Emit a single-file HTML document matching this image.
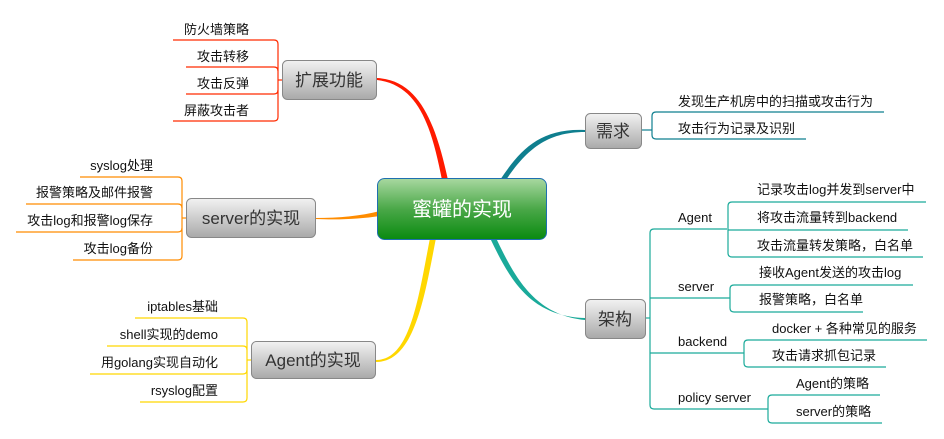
<!DOCTYPE html>
<html><head><meta charset="utf-8"><style>
html,body{margin:0;padding:0;background:#fff;width:944px;height:439px;overflow:hidden}
text{font-family:"Liberation Sans","Noto Sans CJK SC",sans-serif;font-size:13px;fill:#111}
.b{font-size:17px;fill:#333}
</style></head><body>
<svg width="944" height="439" viewBox="0 0 944 439" xmlns="http://www.w3.org/2000/svg">
<defs>
<linearGradient id="g" x1="0" y1="0" x2="0" y2="1"><stop offset="0" stop-color="#f2f2f2"/><stop offset="1" stop-color="#a9a9a9"/></linearGradient>
<linearGradient id="gc" x1="0" y1="0" x2="0" y2="1"><stop offset="0" stop-color="#a8d8a0"/><stop offset="0.5" stop-color="#4aa848"/><stop offset="1" stop-color="#0a8a10"/></linearGradient>
</defs>
<!-- main connectors -->
<path d="M377,80 C420,85 432,130 442,180 L448,180 C436,125 420,80 377,78 Z" fill="#ff1a00"/>
<path d="M315,218 C340,218 360,216 380,211 L380,216 C360,219 340,220 315,219 Z" fill="#ff8c00"/>
<path d="M376,360 C410,360 418,300 430,238 L436,238 C424,300 414,362 376,362 Z" fill="#ffd700"/>
<path d="M585,130 C540,128 520,150 500,180 L506,180 C525,152 545,132 585,132 Z" fill="#0f7f8f"/>
<path d="M585,318 C530,316 510,280 490,238 L496,238 C515,278 535,315 585,320 Z" fill="#1aaa9a"/>
<!-- center -->
<rect x="377.5" y="178.5" width="169" height="61" rx="7" fill="url(#gc)" stroke="#1e6fb0"/>
<text x="462" y="216" text-anchor="middle" style="font-size:20px;fill:#fff">蜜罐的实现</text>
<!-- 扩展功能 -->
<g fill="none" stroke="#ff2a00" stroke-width="1.2">
<path d="M282,80 H278"/><path d="M173,40 H274 Q278,40 278,44 V117 Q278,121 274,121 H173"/>
<path d="M186,67 H274 Q278,67 278,71"/><path d="M186,94 H274 Q278,94 278,90"/>
</g>
<rect x="282.5" y="60.5" width="94" height="39" rx="5" fill="url(#g)" stroke="#888"/>
<text class="b" x="329" y="86" text-anchor="middle">扩展功能</text>
<text x="249" y="34" text-anchor="end">防火墙策略</text>
<text x="249" y="61" text-anchor="end">攻击转移</text>
<text x="249" y="88" text-anchor="end">攻击反弹</text>
<text x="249" y="115" text-anchor="end">屏蔽攻击者</text>
<!-- server的实现 -->
<g fill="none" stroke="#ff8c00" stroke-width="1.2">
<path d="M186,218 H182"/><path d="M80,177 H178 Q182,177 182,181 V256 Q182,260 178,260 H73"/>
<path d="M26,204 H178 Q182,204 182,208"/><path d="M16,232 H178 Q182,232 182,228"/>
</g>
<rect x="186.5" y="198.5" width="129" height="39" rx="5" fill="url(#g)" stroke="#888"/>
<text class="b" x="251" y="224" text-anchor="middle">server的实现</text>
<text x="153" y="170" text-anchor="end">syslog处理</text>
<text x="153" y="197" text-anchor="end">报警策略及邮件报警</text>
<text x="153" y="225" text-anchor="end">攻击log和报警log保存</text>
<text x="153" y="253" text-anchor="end">攻击log备份</text>
<!-- Agent的实现 -->
<g fill="none" stroke="#ffd700" stroke-width="1.2">
<path d="M251,360 H247"/><path d="M135,318 H243 Q247,318 247,322 V398 Q247,402 243,402 H140"/>
<path d="M107,346 H243 Q247,346 247,350"/><path d="M90,374 H243 Q247,374 247,370"/>
</g>
<rect x="251.5" y="341.5" width="124" height="37" rx="5" fill="url(#g)" stroke="#888"/>
<text class="b" x="313" y="366" text-anchor="middle">Agent的实现</text>
<text x="218" y="311" text-anchor="end">iptables基础</text>
<text x="218" y="339" text-anchor="end">shell实现的demo</text>
<text x="218" y="367" text-anchor="end">用golang实现自动化</text>
<text x="218" y="395" text-anchor="end">rsyslog配置</text>
<!-- 需求 -->
<g fill="none" stroke="#0f7f8f" stroke-width="1.2">
<path d="M641,130 H652"/><path d="M884,112 H656 Q652,112 652,116 V135 Q652,139 656,139 H806"/>
</g>
<rect x="585.5" y="113.5" width="56" height="35" rx="5" fill="url(#g)" stroke="#888"/>
<text class="b" x="613" y="137" text-anchor="middle">需求</text>
<text x="678" y="106">发现生产机房中的扫描或攻击行为</text>
<text x="678" y="133">攻击行为记录及识别</text>
<!-- 架构 -->
<g fill="none" stroke="#1aaa9a" stroke-width="1.2">
<path d="M645,318 H650"/>
<path d="M727,229 H654 Q650,229 650,233 V405 Q650,409 654,409 H768"/>
<path d="M650,298 H730"/><path d="M650,353 H744"/>
<path d="M926,202 H732 Q728,202 728,206 V253 Q728,257 732,257 H923"/><path d="M728,230 H908"/>
<path d="M913,285 H734 Q730,285 730,289 V308 Q730,312 734,312 H863"/>
<path d="M927,340 H748 Q744,340 744,344 V363 Q744,367 748,367 H886"/>
<path d="M880,395 H772 Q768,395 768,399 V419 Q768,423 772,423 H882"/>
</g>
<rect x="585.5" y="299.5" width="60" height="39" rx="5" fill="url(#g)" stroke="#888"/>
<text class="b" x="615" y="325" text-anchor="middle">架构</text>
<text x="678" y="222">Agent</text>
<text x="678" y="291">server</text>
<text x="678" y="346">backend</text>
<text x="678" y="402">policy server</text>
<text x="757" y="194">记录攻击log并发到server中</text>
<text x="757" y="222">将攻击流量转到backend</text>
<text x="757" y="250">攻击流量转发策略，白名单</text>
<text x="759" y="277">接收Agent发送的攻击log</text>
<text x="759" y="304">报警策略，白名单</text>
<text x="772" y="333">docker + 各种常见的服务</text>
<text x="772" y="360">攻击请求抓包记录</text>
<text x="796" y="388">Agent的策略</text>
<text x="796" y="416">server的策略</text>
</svg>
</body></html>
